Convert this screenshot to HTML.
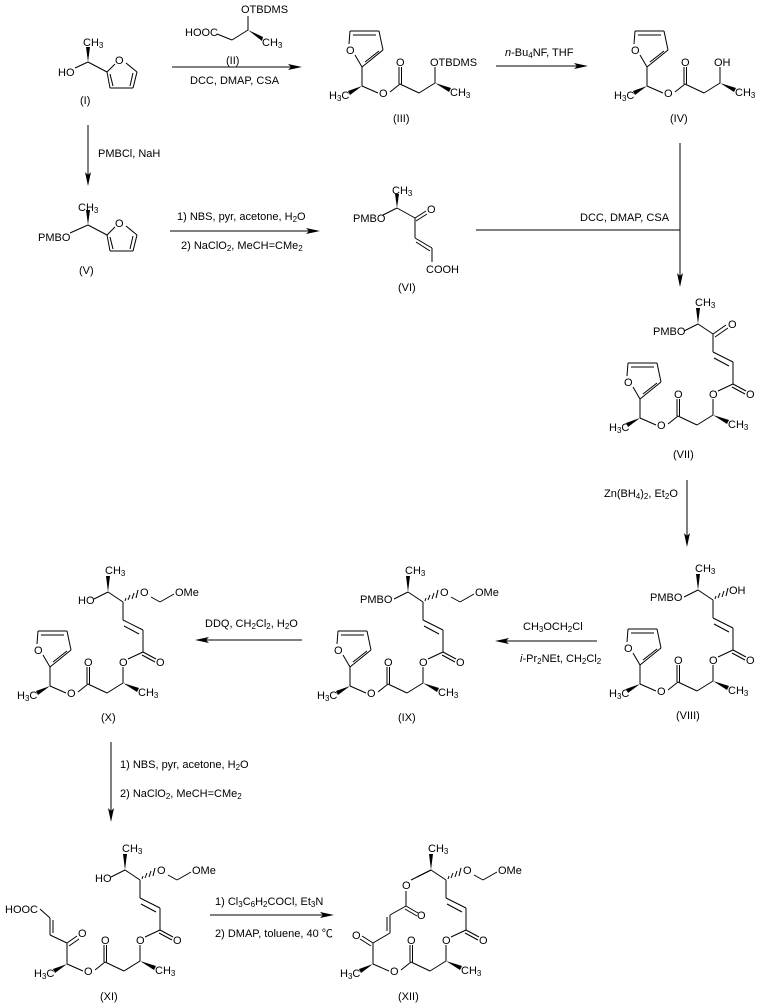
<!DOCTYPE html>
<html><head><meta charset="utf-8">
<style>
html,body{margin:0;padding:0;background:#fff;}
svg{display:block;}
text{font-family:"Liberation Sans",Arial,sans-serif;font-size:11px;fill:#000;}
.s{font-size:8px;}
line,polyline,path{stroke:#000;stroke-width:1;fill:none;}
.w{fill:#000;stroke:none;}
</style></head><body>
<svg width="760" height="1004" viewBox="0 0 760 1004" xmlns="http://www.w3.org/2000/svg">
<defs>
<g id="fur">
  <line x1="0" y1="0" x2="0" y2="-19"/>
  <line x1="0" y1="-19" x2="21" y2="-36"/>
  <line x1="3" y1="-24" x2="17" y2="-35"/>
  <line x1="21" y1="-36" x2="17" y2="-55"/>
  <line x1="17" y1="-55" x2="-12" y2="-55"/>
  <line x1="14" y1="-51" x2="-9" y2="-51"/>
  <line x1="-12" y1="-55" x2="-13" y2="-42"/>
  <line x1="-7" y1="-31" x2="0" y2="-19"/>
</g>
<g id="low">
  <polygon class="w" points="0,0 -14,5 -12,9"/>
  <line x1="0" y1="0" x2="16" y2="7"/>
  <line x1="28" y1="6" x2="38" y2="-2"/>
  <line x1="37" y1="-2" x2="37" y2="-19"/>
  <line x1="39.5" y1="-2" x2="39.5" y2="-19"/>
  <line x1="38" y1="-2" x2="57" y2="7"/>
  <line x1="57" y1="7" x2="73" y2="-3"/>
  <line x1="73" y1="-3" x2="73" y2="-19"/>
  <polygon class="w" points="73,-3 89,2 87,6"/>
</g>
<g id="est">
  <line x1="78" y1="-27" x2="93" y2="-34"/>
  <line x1="93" y1="-34" x2="106" y2="-27"/>
  <line x1="92" y1="-31" x2="105" y2="-24"/>
  <line x1="93" y1="-34" x2="93" y2="-56"/>
  <line x1="93" y1="-56" x2="73" y2="-66"/>
  <line x1="89" y1="-52" x2="74" y2="-60"/>
  <line x1="73" y1="-66" x2="73" y2="-84"/>
  <line x1="73" y1="-84" x2="58" y2="-94"/>
  <polygon class="w" points="58,-94 56,-110 60,-110"/>
  <line x1="58" y1="-94" x2="44" y2="-87"/>
</g>
<g id="hash">
  <line x1="76" y1="-88" x2="75" y2="-85"/>
  <line x1="80" y1="-91" x2="78" y2="-86"/>
  <line x1="84" y1="-93" x2="82" y2="-87"/>
  <line x1="88" y1="-96" x2="86" y2="-88"/>
</g>
<g id="mom">
  <line x1="101" y1="-89" x2="110" y2="-84"/>
  <line x1="110" y1="-84" x2="124" y2="-92"/>
</g>
</defs>

<!-- (I) -->
<polygon class="w" points="88,62 86,47 90,47"/>
<text x="83" y="46">CH<tspan class="s" dy="2">3</tspan></text>
<line x1="88" y1="62" x2="75" y2="68"/>
<text x="58" y="76">HO</text>
<line x1="88" y1="62" x2="107" y2="72"/>
<line x1="107" y1="72" x2="115" y2="64"/>
<text x="115" y="64">O</text>
<line x1="126" y1="63" x2="137" y2="72"/>
<line x1="137" y1="72" x2="133" y2="88"/>
<line x1="133" y1="73" x2="130" y2="86"/>
<line x1="133" y1="88" x2="110" y2="88"/>
<line x1="110" y1="88" x2="107" y2="72"/>
<line x1="113" y1="86" x2="110" y2="74"/>
<text x="80" y="104">(I)</text>

<!-- (II) -->
<text x="185" y="36">HOOC</text>
<line x1="217" y1="34" x2="232" y2="40"/>
<line x1="232" y1="40" x2="248" y2="30"/>
<line x1="248" y1="30" x2="248" y2="16"/>
<text x="241" y="13">OTBDMS</text>
<polygon class="w" points="248,30 263,37 262,41"/>
<text x="262" y="46">CH<tspan class="s" dy="2">3</tspan></text>
<text x="226" y="64">(II)</text>
<line x1="172" y1="67" x2="296" y2="67"/>
<polygon class="w" points="302,67 288,64 291,67 288,70"/>
<text x="190" y="84">DCC, DMAP, CSA</text>

<!-- (III) -->
<g transform="translate(362,86)">
  <use href="#fur"/><use href="#low"/>
  <text x="-16" y="-32">O</text>
  <text x="-33" y="13">H<tspan class="s" dy="2">3</tspan><tspan dy="-2">C</tspan></text>
  <text x="17" y="11">O</text>
  <text x="34" y="-20">O</text>
  <text x="68" y="-20">OTBDMS</text>
  <text x="88" y="10">CH<tspan class="s" dy="2">3</tspan></text>
</g>
<text x="393" y="122">(III)</text>

<line x1="496" y1="66" x2="582" y2="66"/>
<polygon class="w" points="588,66 574,63 577,66 574,69"/>
<text x="505" y="56"><tspan font-style="italic">n</tspan>-Bu<tspan class="s" dy="2">4</tspan><tspan dy="-2">NF, THF</tspan></text>

<!-- (IV) -->
<g transform="translate(647,86)">
  <use href="#fur"/><use href="#low"/>
  <text x="-16" y="-32">O</text>
  <text x="-33" y="13">H<tspan class="s" dy="2">3</tspan><tspan dy="-2">C</tspan></text>
  <text x="17" y="11">O</text>
  <text x="34" y="-20">O</text>
  <text x="67" y="-20">OH</text>
  <text x="88" y="10">CH<tspan class="s" dy="2">3</tspan></text>
</g>
<text x="670" y="122">(IV)</text>

<!-- I -> V -->
<line x1="88" y1="125" x2="88" y2="180"/>
<polygon class="w" points="88,186 85,172 88,175 91,172"/>
<text x="98" y="157">PMBCl, NaH</text>

<!-- (V) -->
<polygon class="w" points="88,225 86,210 90,210"/>
<text x="78" y="211">CH<tspan class="s" dy="2">3</tspan></text>
<line x1="88" y1="225" x2="70" y2="233"/>
<text x="38" y="241">PMBO</text>
<line x1="88" y1="225" x2="107" y2="235"/>
<line x1="107" y1="235" x2="115" y2="227"/>
<text x="115" y="227">O</text>
<line x1="126" y1="226" x2="137" y2="235"/>
<line x1="137" y1="235" x2="133" y2="251"/>
<line x1="133" y1="236" x2="130" y2="249"/>
<line x1="133" y1="251" x2="110" y2="251"/>
<line x1="110" y1="251" x2="107" y2="235"/>
<line x1="113" y1="249" x2="110" y2="237"/>
<text x="79" y="274">(V)</text>

<!-- V -> VI -->
<line x1="170" y1="231" x2="314" y2="231"/>
<polygon class="w" points="320,231 306,228 309,231 306,234"/>
<text x="177" y="220">1) NBS, pyr, acetone, H<tspan class="s" dy="2">2</tspan><tspan dy="-2">O</tspan></text>
<text x="181" y="249">2) NaClO<tspan class="s" dy="2">2</tspan><tspan dy="-2">, MeCH=CMe</tspan><tspan class="s" dy="2">2</tspan></text>

<!-- (VI) -->
<polygon class="w" points="397,208 395,194 399,194"/>
<text x="392" y="194">CH<tspan class="s" dy="2">3</tspan></text>
<line x1="397" y1="208" x2="383" y2="215"/>
<text x="353" y="222">PMBO</text>
<line x1="397" y1="208" x2="415" y2="218"/>
<line x1="415" y1="218" x2="426" y2="211"/>
<line x1="416" y1="221" x2="427" y2="214"/>
<text x="427" y="213">O</text>
<line x1="415" y1="218" x2="415" y2="238"/>
<line x1="415" y1="238" x2="432" y2="248"/>
<line x1="416" y1="242" x2="430" y2="251"/>
<line x1="432" y1="248" x2="432" y2="262"/>
<text x="426" y="273">COOH</text>
<text x="398" y="291">(VI)</text>

<!-- VI + IV -> VII -->
<line x1="476" y1="230" x2="680" y2="230"/>
<line x1="680" y1="143" x2="680" y2="280"/>
<polygon class="w" points="680,287 677,273 680,276 683,273"/>
<text x="580" y="221">DCC, DMAP, CSA</text>

<!-- (VII) -->
<g transform="translate(640,418)">
  <use href="#fur"/><use href="#low"/><use href="#est"/>
  <line x1="73" y1="-84" x2="86" y2="-93"/>
  <line x1="75" y1="-81" x2="88" y2="-90"/>
  <text x="-16" y="-32">O</text>
  <text x="-31" y="13">H<tspan class="s" dy="2">3</tspan><tspan dy="-2">C</tspan></text>
  <text x="17" y="11">O</text>
  <text x="34" y="-20">O</text>
  <text x="69" y="-20">O</text>
  <text x="106" y="-20">O</text>
  <text x="88" y="10">CH<tspan class="s" dy="2">3</tspan></text>
  <text x="88" y="-90">O</text>
  <text x="55" y="-112">CH<tspan class="s" dy="2">3</tspan></text>
  <text x="13" y="-83">PMBO</text>
</g>
<text x="673" y="458">(VII)</text>

<!-- VII -> VIII -->
<line x1="687" y1="480" x2="687" y2="540"/>
<polygon class="w" points="687,547 684,533 687,536 690,533"/>
<text x="604" y="497">Zn(BH<tspan class="s" dy="2">4</tspan><tspan dy="-2">)</tspan><tspan class="s" dy="2">2</tspan><tspan dy="-2">, Et</tspan><tspan class="s" dy="2">2</tspan><tspan dy="-2">O</tspan></text>

<!-- (VIII) -->
<g transform="translate(640,684)">
  <use href="#fur"/><use href="#low"/><use href="#est"/><use href="#hash"/>
  <text x="-16" y="-32">O</text>
  <text x="-31" y="13">H<tspan class="s" dy="2">3</tspan><tspan dy="-2">C</tspan></text>
  <text x="17" y="11">O</text>
  <text x="34" y="-20">O</text>
  <text x="69" y="-20">O</text>
  <text x="106" y="-20">O</text>
  <text x="88" y="10">CH<tspan class="s" dy="2">3</tspan></text>
  <text x="89" y="-90">OH</text>
  <text x="55" y="-112">CH<tspan class="s" dy="2">3</tspan></text>
  <text x="10" y="-83">PMBO</text>
</g>
<text x="676" y="719">(VIII)</text>

<!-- VIII -> IX -->
<line x1="502" y1="641" x2="597" y2="641"/>
<polygon class="w" points="495,641 509,638 506,641 509,644"/>
<text x="523" y="630">CH<tspan class="s" dy="2">3</tspan><tspan dy="-2">OCH</tspan><tspan class="s" dy="2">2</tspan><tspan dy="-2">Cl</tspan></text>
<text x="520" y="662"><tspan font-style="italic">i</tspan>-Pr<tspan class="s" dy="2">2</tspan><tspan dy="-2">NEt, CH</tspan><tspan class="s" dy="2">2</tspan><tspan dy="-2">Cl</tspan><tspan class="s" dy="2">2</tspan></text>

<!-- (IX) -->
<g transform="translate(350,686)">
  <use href="#fur"/><use href="#low"/><use href="#est"/><use href="#hash"/><use href="#mom"/>
  <text x="-16" y="-32">O</text>
  <text x="-33" y="13">H<tspan class="s" dy="2">3</tspan><tspan dy="-2">C</tspan></text>
  <text x="17" y="11">O</text>
  <text x="34" y="-20">O</text>
  <text x="69" y="-20">O</text>
  <text x="106" y="-20">O</text>
  <text x="88" y="10">CH<tspan class="s" dy="2">3</tspan></text>
  <text x="90" y="-90">O</text>
  <text x="125" y="-90">OMe</text>
  <text x="55" y="-112">CH<tspan class="s" dy="2">3</tspan></text>
  <text x="10" y="-83">PMBO</text>
</g>
<text x="398" y="721">(IX)</text>

<!-- IX -> X -->
<line x1="202" y1="640" x2="302" y2="640"/>
<polygon class="w" points="195,640 209,637 206,640 209,643"/>
<text x="205" y="627">DDQ, CH<tspan class="s" dy="2">2</tspan><tspan dy="-2">Cl</tspan><tspan class="s" dy="2">2</tspan><tspan dy="-2">, H</tspan><tspan class="s" dy="2">2</tspan><tspan dy="-2">O</tspan></text>

<!-- (X) -->
<g transform="translate(50,686)">
  <use href="#fur"/><use href="#low"/><use href="#est"/><use href="#hash"/><use href="#mom"/>
  <text x="-16" y="-32">O</text>
  <text x="-33" y="13">H<tspan class="s" dy="2">3</tspan><tspan dy="-2">C</tspan></text>
  <text x="17" y="11">O</text>
  <text x="34" y="-20">O</text>
  <text x="69" y="-20">O</text>
  <text x="106" y="-20">O</text>
  <text x="88" y="10">CH<tspan class="s" dy="2">3</tspan></text>
  <text x="90" y="-90">O</text>
  <text x="125" y="-90">OMe</text>
  <text x="55" y="-112">CH<tspan class="s" dy="2">3</tspan></text>
  <text x="28" y="-82">HO</text>
</g>
<text x="101" y="721">(X)</text>

<!-- X -> XI -->
<line x1="111" y1="742" x2="111" y2="815"/>
<polygon class="w" points="111,822 108,808 111,811 114,808"/>
<text x="120" y="768">1) NBS, pyr, acetone, H<tspan class="s" dy="2">2</tspan><tspan dy="-2">O</tspan></text>
<text x="120" y="797">2) NaClO<tspan class="s" dy="2">2</tspan><tspan dy="-2">, MeCH=CMe</tspan><tspan class="s" dy="2">2</tspan></text>

<!-- (XI) -->
<g transform="translate(67,964)">
  <use href="#low"/><use href="#est"/><use href="#hash"/><use href="#mom"/>
  <line x1="0" y1="0" x2="0" y2="-21"/>
  <line x1="0" y1="-21" x2="10" y2="-28"/>
  <line x1="2" y1="-18" x2="12" y2="-25"/>
  <line x1="0" y1="-21" x2="-17" y2="-29"/>
  <line x1="-17" y1="-29" x2="-17" y2="-46"/>
  <line x1="-14" y1="-31" x2="-14" y2="-44"/>
  <line x1="-17" y1="-46" x2="-27" y2="-55"/>
  <text x="-62" y="-51">HOOC</text>
  <text x="11" y="-27">O</text>
  <text x="-33" y="13">H<tspan class="s" dy="2">3</tspan><tspan dy="-2">C</tspan></text>
  <text x="17" y="11">O</text>
  <text x="34" y="-20">O</text>
  <text x="69" y="-20">O</text>
  <text x="106" y="-20">O</text>
  <text x="88" y="10">CH<tspan class="s" dy="2">3</tspan></text>
  <text x="90" y="-90">O</text>
  <text x="125" y="-90">OMe</text>
  <text x="55" y="-112">CH<tspan class="s" dy="2">3</tspan></text>
  <text x="28" y="-82">HO</text>
</g>
<text x="100" y="1000">(XI)</text>

<!-- XI -> XII -->
<line x1="210" y1="915" x2="328" y2="915"/>
<polygon class="w" points="334,915 320,912 323,915 320,918"/>
<text x="215" y="905">1) Cl<tspan class="s" dy="2">3</tspan><tspan dy="-2">C</tspan><tspan class="s" dy="2">6</tspan><tspan dy="-2">H</tspan><tspan class="s" dy="2">2</tspan><tspan dy="-2">COCl, Et</tspan><tspan class="s" dy="2">3</tspan><tspan dy="-2">N</tspan></text>
<text x="215" y="937">2) DMAP, toluene, 40 <tspan font-family="Noto Sans CJK SC">℃</tspan></text>

<!-- (XII) -->
<g transform="translate(373,964)">
  <use href="#low"/><use href="#est"/><use href="#hash"/><use href="#mom"/>
  <line x1="0" y1="0" x2="0" y2="-21"/>
  <line x1="0" y1="-21" x2="-11" y2="-28"/>
  <line x1="-2" y1="-18" x2="-13" y2="-25"/>
  <line x1="0" y1="-21" x2="17" y2="-31"/>
  <line x1="17" y1="-31" x2="17" y2="-49"/>
  <line x1="14" y1="-33" x2="14" y2="-47"/>
  <line x1="17" y1="-49" x2="33" y2="-58"/>
  <line x1="33" y1="-58" x2="45" y2="-51"/>
  <line x1="32" y1="-55" x2="44" y2="-48"/>
  <line x1="33" y1="-58" x2="33" y2="-73"/>
  <line x1="38" y1="-84" x2="58" y2="-94"/>
  <text x="-21" y="-25">O</text>
  <text x="44" y="-45">O</text>
  <text x="29" y="-75">O</text>
  <text x="-33" y="13">H<tspan class="s" dy="2">3</tspan><tspan dy="-2">C</tspan></text>
  <text x="17" y="11">O</text>
  <text x="34" y="-20">O</text>
  <text x="69" y="-20">O</text>
  <text x="106" y="-20">O</text>
  <text x="88" y="10">CH<tspan class="s" dy="2">3</tspan></text>
  <text x="90" y="-90">O</text>
  <text x="125" y="-90">OMe</text>
  <text x="55" y="-112">CH<tspan class="s" dy="2">3</tspan></text>
</g>
<text x="398" y="1000">(XII)</text>
</svg>
</body></html>
